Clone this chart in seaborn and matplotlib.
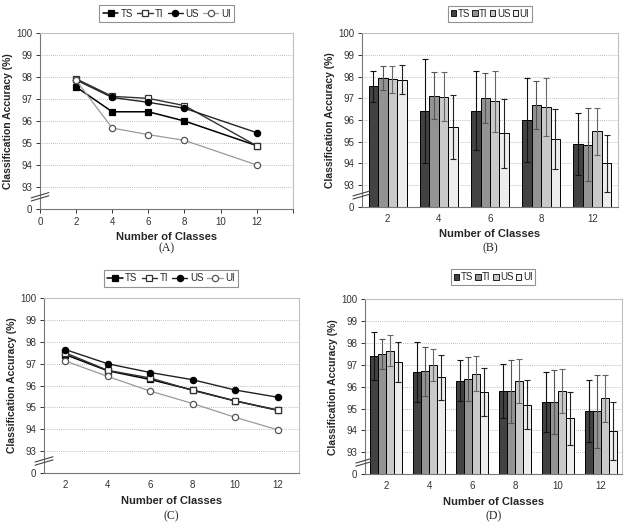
import numpy as np
import pandas as pd
import matplotlib
matplotlib.use("Agg")
import matplotlib.pyplot as plt
import seaborn as sns
from matplotlib.patches import Patch

sns.set_style("white")
plt.rcParams['font.family'] = ['Liberation Sans', 'DejaVu Sans']

# ===============================
# Data
# ===============================
methods = ["TS", "TI", "US", "UI"]

# 5-class-set experiment (A, B)
classes_ab = [2, 4, 6, 8, 12]
ts_ab = [97.55, 96.42, 96.42, 96.00, 94.88]
ti_ab = [97.92, 97.12, 97.03, 96.70, 94.87]
us_ab = [97.87, 97.07, 96.85, 96.58, 95.47]
ui_ab = [97.85, 95.68, 95.38, 95.12, 94.00]
ts_ab_err = [0.72, 2.38, 1.82, 1.95, 1.43]
ti_ab_err = [0.55, 1.08, 1.15, 1.10, 1.67]
us_ab_err = [0.62, 1.12, 1.40, 1.33, 1.08]
ui_ab_err = [0.67, 1.48, 1.58, 1.40, 1.33]

# 6-class-set experiment (C, D)
classes_cd = [2, 4, 6, 8, 10, 12]
ts_cd = [97.42, 96.68, 96.28, 95.80, 95.30, 94.88]
ti_cd = [97.50, 96.70, 96.35, 95.78, 95.30, 94.87]
us_cd = [97.65, 97.00, 96.60, 96.27, 95.80, 95.47]
ui_cd = [97.13, 96.42, 95.75, 95.18, 94.55, 93.98]
ts_cd_err = [1.10, 1.37, 0.93, 1.25, 1.37, 1.43]
ti_cd_err = [0.68, 1.13, 1.02, 1.42, 1.45, 1.67]
us_cd_err = [0.70, 0.73, 0.80, 1.00, 1.00, 1.08]
ui_cd_err = [0.90, 1.02, 1.10, 1.13, 1.20, 1.33]

y_ticks = [92, 93, 94, 95, 96, 97, 98, 99, 100]
y_labels = ["0", "93", "94", "95", "96", "97", "98", "99", "100"]


def long_df(classes, series, errs):
    rows = []
    for m, vals, ee in zip(methods, series, errs):
        for i, (c, v, e) in enumerate(zip(classes, vals, ee)):
            rows.append({"pos": i, "classes": c, "method": m, "acc": v, "err": e})
    return pd.DataFrame(rows)


df_ab = long_df(classes_ab, [ts_ab, ti_ab, us_ab, ui_ab],
                [ts_ab_err, ti_ab_err, us_ab_err, ui_ab_err])
df_cd = long_df(classes_cd, [ts_cd, ti_cd, us_cd, ui_cd],
                [ts_cd_err, ti_cd_err, us_cd_err, ui_cd_err])

line_styles = {
    "TS": dict(color="black", marker="s", mfc="black", mec="black", ms=4.5, lw=1.1),
    "TI": dict(color="#333333", marker="s", mfc="white", mec="#333333", ms=4.5, lw=1.0),
    "US": dict(color="#222222", marker="o", mfc="black", mec="black", ms=4.5, lw=1.0),
    "UI": dict(color="#9a9a9a", marker="o", mfc="white", mec="#555555", ms=4.5, lw=0.9),
}
bar_colors = ["#424242", "#939393", "#c9c9c9", "#ededed"]
err_colors = ["#111111", "#555555", "#666666", "#222222"]

fig = plt.figure(figsize=(6.29, 5.25), dpi=100)
axA = fig.add_axes([0.0636, 0.602, 0.402, 0.335])
axB = fig.add_axes([0.5755, 0.606, 0.407, 0.331])
axC = fig.add_axes([0.070, 0.099, 0.405, 0.333])
axD = fig.add_axes([0.580, 0.097, 0.409, 0.333])


def style_axes(ax):
    ax.set_ylim(92, 100)
    ax.set_yticks(y_ticks)
    ax.set_yticklabels(y_labels)
    for y in range(93, 100):
        ax.axhline(y, color="#a8a8a8", lw=0.6, ls=(0, (1, 1.5)), zorder=0)
    for s in ["top", "right"]:
        ax.spines[s].set_color("#c0c0c0")
        ax.spines[s].set_linewidth(0.8)
    for s in ["left", "bottom"]:
        ax.spines[s].set_color("#777777")
        ax.spines[s].set_linewidth(0.8)
    ax.tick_params(axis="both", labelsize=7, colors="#333333", length=3,
                   direction="out", width=0.7, left=True, bottom=True, pad=2.5)
    ax.set_xlabel("Number of Classes", fontsize=8, fontweight="bold", labelpad=4)
    ax.set_ylabel("Classification Accuracy (%)", fontsize=7.5, fontweight="bold", labelpad=2)
    # axis break marks
    for dy in (0.0, 0.018):
        ax.plot([-0.035, 0.035], [0.045 + dy, 0.075 + dy], transform=ax.transAxes,
                color="#444444", lw=0.8, clip_on=False, zorder=5)


def line_panel(ax, df, xcol):
    for m in methods:
        st = line_styles[m]
        sub = df[df["method"] == m]
        sns.lineplot(data=sub, x=xcol, y="acc", ax=ax, color=st["color"], lw=st["lw"],
                     marker=st["marker"], markerfacecolor=st["mfc"],
                     markeredgecolor=st["mec"], markersize=st["ms"],
                     markeredgewidth=0.9, label=m, legend=False, zorder=3)
    style_axes(ax)


def bar_panel(ax, df, classes):
    sns.barplot(data=df, x="pos", y="acc", hue="method", hue_order=methods,
                palette=bar_colors, errorbar=None, width=0.74, edgecolor="black",
                linewidth=0.7, ax=ax, legend=False, zorder=2)
    for i, m in enumerate(methods):
        sub = df[df["method"] == m]
        cont = ax.containers[i]
        xs = [p.get_x() + p.get_width() / 2 for p in cont.patches]
        ax.errorbar(xs, sub["acc"], yerr=sub["err"], fmt="none", ecolor=err_colors[i],
                    elinewidth=0.8, capsize=2.2, capthick=0.8, zorder=4)
    n = len(classes)
    ax.set_xlim(-0.5, n - 0.5)
    ax.set_xticks(range(n))
    ax.set_xticklabels([str(c) for c in classes])
    ax.set_xticks(np.arange(-0.5, n, 1.0), minor=True)
    style_axes(ax)
    ax.tick_params(axis="x", which="major", length=0, pad=5)
    ax.tick_params(axis="x", which="minor", length=3, width=0.7, colors="#777777")


# (A)
line_panel(axA, df_ab, "classes")
axA.set_xlim(0, 14)
axA.set_xticks(range(0, 15, 2))
axA.set_xticklabels([str(v) for v in range(0, 13, 2)] + [""])

# (B)
bar_panel(axB, df_ab, classes_ab)

# (C)
line_panel(axC, df_cd, "pos")
axC.set_xlim(-0.5, len(classes_cd) - 0.5)
axC.set_xticks(range(len(classes_cd)))
axC.set_xticklabels([str(c) for c in classes_cd])
axC.set_xticks(np.arange(-0.5, len(classes_cd), 1.0), minor=True)
axC.tick_params(axis="x", which="major", length=0, pad=5)
axC.tick_params(axis="x", which="minor", length=3, width=0.7, colors="#777777")

# (D)
bar_panel(axD, df_cd, classes_cd)

# legends
for ax, pos in [(axA, (0.265, 0.974)), (axC, (0.272, 0.470))]:
    h, l = ax.get_legend_handles_labels()
    lg = ax.legend(h, l, bbox_to_anchor=pos, bbox_transform=fig.transFigure,
                   ncol=4, fontsize=7, frameon=True, fancybox=False, loc="center",
                   borderpad=0.35, columnspacing=0.4, handletextpad=0.25,
                   handlelength=1.6)
    lg.get_frame().set_edgecolor("#777777")
    lg.get_frame().set_linewidth(0.8)

bar_handles = [Patch(facecolor=c, edgecolor="black", lw=0.6) for c in bar_colors]
for ax, pos in [(axB, (0.779, 0.974)), (axD, (0.784, 0.472))]:
    lg = ax.legend(bar_handles, methods, bbox_to_anchor=pos, bbox_transform=fig.transFigure,
                   ncol=4, fontsize=7, frameon=True, fancybox=False, loc="center",
                   borderpad=0.3, columnspacing=0.25, handletextpad=0.15,
                   handlelength=0.55, handleheight=0.55)
    lg.get_frame().set_edgecolor("#777777")
    lg.get_frame().set_linewidth(0.8)

# panel labels
for x, y, t in [(0.265, 0.527, "(A)"), (0.779, 0.527, "(B)"),
                (0.272, 0.016, "(C)"), (0.784, 0.016, "(D)")]:
    fig.text(x, y, t, ha="center", va="center", fontsize=8.5,
             family=["Liberation Serif", "DejaVu Serif"])

fig.savefig("out.png", dpi=100)
